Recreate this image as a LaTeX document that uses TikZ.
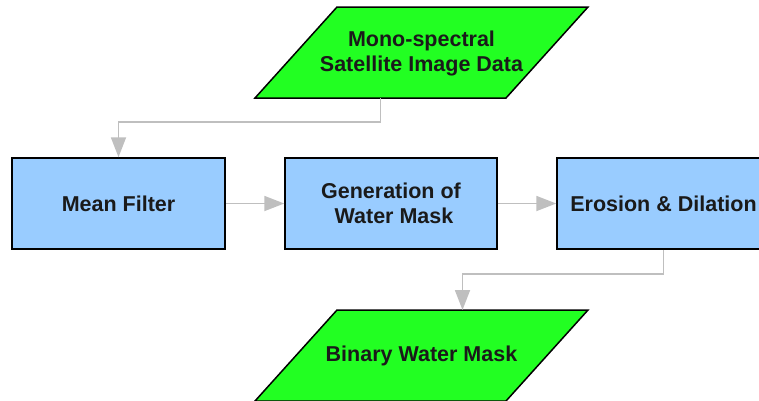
\documentclass[tikz,border=0pt]{standalone}
\usepackage{fontspec}
\setmainfont{Liberation Sans}
\usetikzlibrary{arrows.meta}
\definecolor{datagreen}{RGB}{34,255,34}
\definecolor{procblue}{RGB}{153,204,255}
\definecolor{linkgray}{RGB}{191,191,191}
\definecolor{inkdark}{RGB}{26,26,26}
\begin{document}
\begin{tikzpicture}[x=1pt,y=-1pt,
  label/.style={font=\fontsize{21.5}{25}\selectfont\bfseries, text=inkdark, align=center, inner sep=0pt},
  procbox/.style={label, draw=black, line width=1.5pt, fill=procblue, minimum width=213pt, minimum height=91pt},
  dataio/.style={draw=black, line width=1.5pt, fill=datagreen, line join=miter},
  conn/.style={draw=linkgray, line width=1.8pt, -{Triangle[length=20pt,width=15pt]}}]
\useasboundingbox (0,0) rectangle (759,400);
\clip (0,0) rectangle (759,400);

% input data (parallelogram)
\filldraw[dataio] (337,7) -- (588,7) -- (506,98) -- (255,98) -- cycle;
\node[label] (src) at (421.5,53) {Mono-spectral\\Satellite Image Data};
\coordinate (srcout) at (380.5,98);

% processing steps
\node[procbox] (mean) at (118.5,203.5) {Mean Filter};
\node[procbox, minimum width=212pt] (gen) at (391,203.5) {Generation of\\\ Water Mask};
\node[procbox] (ero) at (663.5,203.5) {Erosion \& Dilation};

% output data (parallelogram)
\filldraw[dataio] (337,310) -- (588,310) -- (506,401) -- (255,401) -- cycle;
\node[label] (res) at (421.5,356) {Binary Water Mask};
\coordinate (resin) at (462.5,310);

% connectors
\draw[conn] (srcout) -- ++(0,24) -| (mean.north);
\draw[conn] (mean.east) -- (gen.west);
\draw[conn] (gen.east) -- (ero.west);
\draw[conn] (ero.south) -- ++(0,24.5) -| (resin);
\end{tikzpicture}
\end{document}
